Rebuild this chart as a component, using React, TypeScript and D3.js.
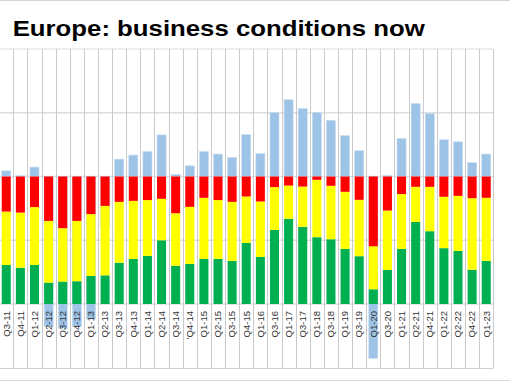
import React from "react";
import * as d3 from "d3";

const categories = [
  "Q3-11", "Q4-11", "Q1-12", "Q2-12", "Q3-12", "Q4-12", "Q1-13", "Q2-13", "Q3-13", "Q4-13",
  "Q1-14", "Q2-14", "Q3-14", "'Q4-14", "Q1-15", "Q2-15", "Q3-15", "Q4-15", "Q1-16", "Q3-16",
  "Q1-17", "Q3-17", "Q1-18", "Q3-18", "Q1-19", "Q3-19", "Q1-20", "Q3-20", "Q1-21", "Q2-21",
  "Q4-21", "Q1-22", "Q2-22", "Q4-22", "Q1-23",
];

const good = [
  30.6, 28.5, 30.6, 16.7, 17.5, 17.8, 22.0, 22.5, 32.4, 35.3,
  37.7, 50.0, 29.9, 31.4, 35.4, 35.4, 33.8, 47.9, 36.9, 58.1,
  66.8, 60.5, 52.4, 50.8, 43.2, 37.5, 11.5, 26.7, 43.2, 64.4,
  57.1, 43.8, 41.6, 26.9, 33.8,
];

const satisfactory = [
  41.9, 43.2, 45.4, 48.5, 42.0, 47.4, 48.5, 54.5, 47.7, 45.6,
  43.8, 32.5, 41.3, 44.8, 47.9, 46.1, 46.3, 36.4, 43.5, 33.6,
  26.1, 31.6, 45.0, 41.9, 44.8, 44.2, 33.8, 46.6, 43.0, 27.5,
  34.8, 40.3, 43.2, 56.1, 49.5,
];

const bad = [
  27.5, 28.3, 24.0, 34.8, 40.5, 34.8, 29.5, 23.0, 19.9, 19.1,
  18.5, 17.5, 28.8, 23.8, 16.7, 18.5, 19.9, 15.7, 19.6, 8.3,
  7.1, 7.9, 2.6, 7.3, 12.0, 18.3, 54.7, 26.7, 13.8, 8.1,
  8.1, 15.9, 15.2, 17.0, 16.7,
];

const netBalance = [
  2.2, 0.3, 3.7, -58.9, -59.5, -58.9, -55.9, -20, 6.8, 8.4,
  9.8, 16.3, 0.8, 4.2, 9.8, 8.8, 7.5, 16.4, 9.0, 25.1,
  30.1, 26.6, 25.1, 22.0, 16.0, 10.1, -71.3, 0.4, 14.9, 28.6,
  24.7, 14.4, 13.6, 5.4, 8.8,
];

const shareTicks = [0, 50, 100, 150, 200];

const title = "Europe: business conditions now";

const keys = ["good", "satisfactory", "bad"];
const colors: Record<string, string> = {
  good: "#00b050",
  satisfactory: "#ffff00",
  bad: "#ff0000",
};

export default function App() {
  const W = 510;
  const H = 382;
  const plotLeft = -0.8;
  const plotRight = 493.3;
  const plotTop = 49;
  const plotBottom = 304;

  const x = d3
    .scaleBand<string>()
    .domain(categories)
    .range([plotLeft, plotRight])
    .paddingInner(0.36)
    .paddingOuter(0.18);
  const step = x.step();

  const y = d3.scaleLinear().domain([0, 200]).range([plotBottom, plotTop]);
  const yNet = d3.scaleLinear().domain([-50, 50]).range([plotBottom, plotTop]);

  const rows = categories.map((c, i) => ({
    cat: c,
    good: good[i],
    satisfactory: satisfactory[i],
    bad: bad[i],
  }));
  const series = d3.stack<any>().keys(keys)(rows);

  const font = "Arial, 'Liberation Sans', Helvetica, sans-serif";

  return (
    <svg
      width={W}
      height={H}
      style={{ position: "absolute", left: 0, top: 0, background: "#ffffff" }}
    >
      {/* frame lines */}
      <line x1={0} x2={W} y1={0.5} y2={0.5} stroke="#d4d4d4" strokeWidth={1} />
      <line x1={0} x2={W} y1={380.5} y2={380.5} stroke="#d9d9d9" strokeWidth={1} />
      <line x1={0} x2={plotRight} y1={368.5} y2={368.5} stroke="#d0d0d0" strokeWidth={1} />

      {/* title */}
      <text
        x={12.7}
        y={36}
        fontFamily={font}
        fontWeight="bold"
        fontSize={22.5}
        textLength={412}
        lengthAdjust="spacingAndGlyphs"
        fill="#000"
      >
        {title}
      </text>

      {/* horizontal gridlines */}
      {shareTicks.map((t) => (
        <line
          key={"h" + t}
          x1={0}
          x2={plotRight}
          y1={y(t)}
          y2={y(t)}
          stroke="#dedede"
          strokeWidth={t === 200 ? 1 : 1.6}
        />
      ))}

      {/* vertical category lines */}
      {d3.range(categories.length + 1).map((i) => {
        const xx = Math.round(plotLeft + i * step) + 0.5;
        return (
          <line
            key={"v" + i}
            x1={xx}
            x2={xx}
            y1={plotTop}
            y2={368}
            stroke="#cacaca"
            strokeWidth={1}
          />
        );
      })}

      {/* net balance bars (behind) */}
      {categories.map((c, i) => {
        const v = netBalance[i];
        const y0 = yNet(0);
        const y1 = yNet(v);
        return (
          <rect
            key={"n" + c}
            x={x(c)}
            width={x.bandwidth()}
            y={Math.min(y0, y1)}
            height={Math.abs(y1 - y0)}
            fill="#9dc3e6"
            stroke="#c6dcf0"
            strokeWidth={0.6}
          />
        );
      })}

      {/* stacked share bars */}
      {series.map((s) => (
        <g key={s.key} fill={colors[s.key]}>
          {s.map((d: any) => (
            <rect
              key={d.data.cat}
              x={x(d.data.cat)}
              width={x.bandwidth()}
              y={y(d[1])}
              height={y(d[0]) - y(d[1])}
            />
          ))}
        </g>
      ))}

      {/* category labels */}
      {categories.map((c) => {
        const cx = (x(c) as number) + x.bandwidth() / 2 + 3.3;
        return (
          <text
            key={"l" + c}
            transform={`translate(${cx},311) rotate(-90)`}
            textAnchor="end"
            fontFamily={font}
            fontSize={9.5}
            fill="#333"
          >
            {c}
          </text>
        );
      })}
    </svg>
  );
}
